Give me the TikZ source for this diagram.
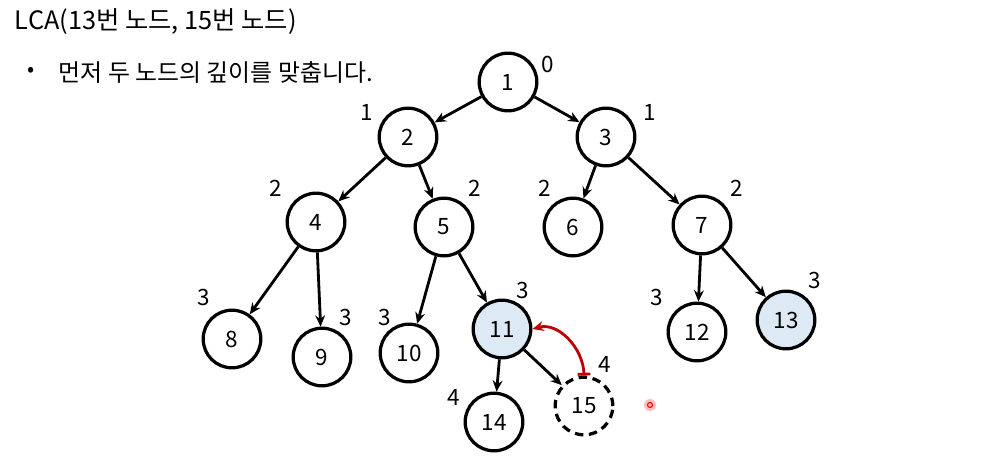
\documentclass[tikz,border=0pt]{standalone}
\usepackage{fontspec}
\setmainfont{Noto Sans CJK KR}
\usetikzlibrary{positioning, arrows.meta}

\definecolor{lcablue}{RGB}{222,233,246}
\definecolor{lcared}{RGB}{192,0,0}

\tikzset{
  tnode/.style={circle, draw=black, line width=2.3pt, minimum size=41pt,
    inner sep=0pt, font=\fontsize{16}{18}\selectfont},
  hit/.style={tnode, fill=lcablue},
  ghost/.style={tnode, dash pattern=on 6pt off 4pt},
  depth/.style={font=\fontsize{16}{18}\selectfont},
  edge/.style={line width=2pt, -{Stealth[length=8pt, width=7pt]}}
}

\begin{document}
\begin{tikzpicture}[x=0.025cm, y=-0.025cm]
    % Page frame, 1004 x 461 px
    \useasboundingbox (0,0) rectangle (1004,461);
    % Title and bullet line
    \node[anchor=west, font=\fontsize{18}{21}\selectfont] (title)
    at (10, 22) {LCA(13번 노드, 15번 노드)};
    \node[font=\fontsize{15}{17}\selectfont] (dot) at (31, 72) {•};
    \node[anchor=west, font=\fontsize{17}{20}\selectfont] (step1)
    at (54, 72) {먼저 두 노드의 깊이를 맞춥니다.};
    % Tree nodes
    \node[tnode] (n1)  at (508, 82)  {1};
    \node[tnode] (n2)  at (408, 137) {2};
    \node[tnode] (n3)  at (606, 137) {3};
    \node[tnode] (n4)  at (316, 222) {4};
    \node[tnode] (n5)  at (444, 227) {5};
    \node[tnode] (n6)  at (573, 227) {6};
    \node[tnode] (n7)  at (702, 225) {7};
    \node[tnode] (n8)  at (232, 339) {8};
    \node[tnode] (n9)  at (322, 357) {9};
    \node[tnode] (n10) at (409, 353) {10};
    \node[hit]   (n11) at (502, 329) {11};
    \node[tnode] (n12) at (697, 332) {12};
    \node[hit]   (n13) at (786, 320) {13};
    \node[tnode] (n14) at (494, 422) {14};
    \node[ghost] (n15) at (584, 406) {15};
    % Parent -> child edges
    \draw[edge] (n1) -- (n2);
    \draw[edge] (n1) -- (n3);
    \draw[edge] (n2) -- (n4);
    \draw[edge] (n2) -- (n5);
    \draw[edge] (n3) -- (n6);
    \draw[edge] (n3) -- (n7);
    \draw[edge] (n4) -- (n8);
    \draw[edge] (n4) -- (n9);
    \draw[edge] (n5) -- (n10);
    \draw[edge] (n5) -- (n11);
    \draw[edge] (n7) -- (n12);
    \draw[edge] (n7) -- (n13);
    \draw[edge] (n11) -- (n14);
    \draw[edge] (n11) -- (n15);
    % Depth labels
    \node[depth] (d1)  at (548, 64)  {0};
    \node[depth] (d2)  at (367, 112) {1};
    \node[depth] (d3)  at (650, 112) {1};
    \node[depth] (d4)  at (276, 188) {2};
    \node[depth] (d5)  at (475, 188) {2};
    \node[depth] (d6)  at (545, 188) {2};
    \node[depth] (d7)  at (737, 188) {2};
    \node[depth] (d8)  at (204, 297) {3};
    \node[depth] (d9)  at (346, 317) {3};
    \node[depth] (d10) at (385, 317) {3};
    \node[depth] (d11) at (523, 290) {3};
    \node[depth] (d12) at (657, 297) {3};
    \node[depth] (d13) at (815, 280) {3};
    \node[depth] (d14) at (454, 397) {4};
    \node[depth] (d15) at (605, 364) {4};
    % Move 15 up to its parent 11
    \draw[lcared, line width=2pt,
      {Bar[width=9pt]}-{Stealth[length=8pt, width=7pt]}]
    (n15.north) to[out=92, in=15] (n11.east);
    % Pointer mark
    \coordinate (ptr) at (650, 405);
    \fill[red!25] (ptr) circle (6);
    \draw[red, line width=0.8pt] (ptr) circle (2.5);
  \end{tikzpicture}
\end{document}
